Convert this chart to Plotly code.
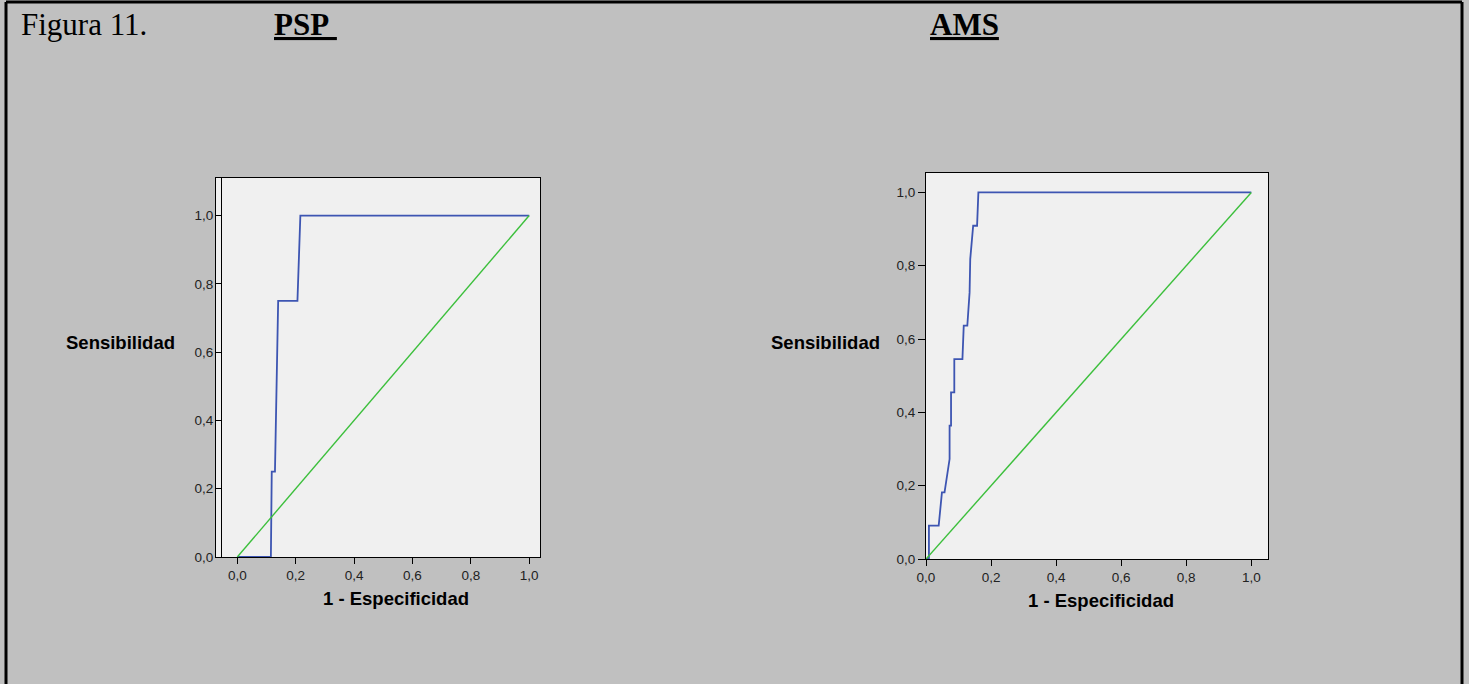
import plotly.graph_objects as go

W, H = 1469, 684

# ---- data ----
psp_fpr = [0.0, 0.115, 0.118, 0.129, 0.140, 0.206, 0.216, 1.0]
psp_tpr = [0.0, 0.0, 0.25, 0.25, 0.75, 0.75, 1.0, 1.0]

ams_fpr = [0.0, 0.009, 0.009, 0.039, 0.049, 0.057, 0.0725, 0.0725, 0.077, 0.077,
           0.087, 0.087, 0.112, 0.116, 0.127, 0.134, 0.136, 0.145, 0.157, 0.161, 1.0]
ams_tpr = [0.0, 0.0, 0.0909, 0.0909, 0.1818, 0.1818, 0.2727, 0.3636, 0.3636, 0.4545,
           0.4545, 0.5455, 0.5455, 0.6364, 0.6364, 0.7273, 0.8182, 0.9091, 0.9091, 1.0, 1.0]

ref_x = [0.0, 1.0]
ref_y = [0.0, 1.0]

tick_vals = [0.0, 0.2, 0.4, 0.6, 0.8, 1.0]

BLUE = "#3d55b2"
GREEN = "#3cbf3c"
SANS = "Arial, Liberation Sans, sans-serif"
SERIF = "Times New Roman, Liberation Serif, serif"


def fx(px):
    return px / W


def fy(py):
    return 1 - py / H


fig = go.Figure()
fig.add_trace(go.Scatter(x=psp_fpr, y=psp_tpr, mode="lines",
                         line=dict(color=BLUE, width=1.8), xaxis="x", yaxis="y"))
fig.add_trace(go.Scatter(x=ref_x, y=ref_y, mode="lines",
                         line=dict(color=GREEN, width=1.4), xaxis="x", yaxis="y"))
fig.add_trace(go.Scatter(x=ams_fpr, y=ams_tpr, mode="lines",
                         line=dict(color=BLUE, width=1.8), xaxis="x2", yaxis="y2"))
fig.add_trace(go.Scatter(x=ref_x, y=ref_y, mode="lines",
                         line=dict(color=GREEN, width=1.4), xaxis="x2", yaxis="y2"))
# dummy trace to activate the inner y axis of the PSP panel
fig.add_trace(go.Scatter(x=[None], y=[None], xaxis="x", yaxis="y3", hoverinfo="skip"))

tickfont = dict(family=SANS, size=13.5, color="#222222")
common_x = dict(showgrid=False, zeroline=False, showline=True, linecolor="black",
                linewidth=1, mirror=True, ticks="outside", ticklen=6, tickcolor="black",
                tickvals=tick_vals, tickformat=".1f", tickfont=tickfont, fixedrange=True,
                automargin=False)

fig.update_layout(
    width=W, height=H,
    autosize=False,
    margin=dict(l=0, r=0, t=0, b=0, pad=0, autoexpand=False),
    paper_bgcolor="#c0c0c0",
    plot_bgcolor="#f0f0f0",
    separators=",.",
    showlegend=False,
    xaxis=dict(common_x, domain=[fx(216), fx(540)], range=[-0.073, 1.037], anchor="y"),
    yaxis=dict(domain=[fy(557), fy(178)], range=[0, 1.110], anchor="x",
               showgrid=False, zeroline=False, showline=True, linecolor="black",
               linewidth=1, mirror=True, ticks="", showticklabels=False, fixedrange=True,
               automargin=False),
    yaxis3=dict(overlaying="y", anchor="free", position=fx(221), side="left",
                range=[0, 1.110], showgrid=False, zeroline=False, showline=True,
                linecolor="black", linewidth=1, ticks="outside", ticklen=5,
                tickcolor="black", tickvals=tick_vals, tickformat=".1f",
                tickfont=tickfont, fixedrange=True, automargin=False),
    xaxis2=dict(common_x, domain=[fx(926), fx(1268)], range=[0, 1.0513], anchor="y2"),
    yaxis2=dict(domain=[fy(559), fy(173)], range=[0, 1.053], anchor="x2",
                showgrid=False, zeroline=False, showline=True, linecolor="black",
                linewidth=1, mirror=True, ticks="outside", ticklen=7, tickcolor="black",
                tickvals=tick_vals, tickformat=".1f", tickfont=tickfont, fixedrange=True,
                automargin=False),
)

axis_title_font = dict(family=SANS, size=18.5, color="black")
annotations = [
    dict(text="Figura 11.", x=fx(19), y=fy(24), xanchor="left", yanchor="middle",
         font=dict(family=SERIF, size=31, color="black")),
    dict(text="<b>PSP\u00a0</b>", x=fx(272), y=fy(24), xanchor="left", yanchor="middle",
         font=dict(family=SERIF, size=31, color="black", lineposition="under")),
    dict(text="<b>AMS</b>", x=fx(928), y=fy(24), xanchor="left", yanchor="middle",
         font=dict(family=SERIF, size=31, color="black", lineposition="under")),
    dict(text="<b>Sensibilidad</b>", x=fx(120), y=fy(342), xanchor="center",
         yanchor="middle", font=axis_title_font),
    dict(text="<b>Sensibilidad</b>", x=fx(825), y=fy(342), xanchor="center",
         yanchor="middle", font=axis_title_font),
    dict(text="<b>1 - Especificidad</b>", x=fx(396), y=fy(598), xanchor="center",
         yanchor="middle", font=axis_title_font),
    dict(text="<b>1 - Especificidad</b>", x=fx(1101), y=fy(600), xanchor="center",
         yanchor="middle", font=axis_title_font),
]
for a in annotations:
    a.update(xref="paper", yref="paper", showarrow=False)
fig.update_layout(annotations=annotations)

# outer frame (open at the bottom)
frame = dict(type="line", xref="paper", yref="paper", line=dict(color="black", width=3))
fig.update_layout(shapes=[
    dict(frame, x0=fx(6), x1=fx(6), y0=0, y1=fy(2)),
    dict(frame, x0=fx(1462), x1=fx(1462), y0=0, y1=fy(2)),
    dict(frame, x0=fx(6), x1=fx(1462), y0=fy(2), y1=fy(2)),
])

fig.write_html(
    "out.html",
    post_script="document.documentElement.style.margin='0';"
                "document.body.style.margin='0';"
                "document.body.style.overflow='hidden';",
)
